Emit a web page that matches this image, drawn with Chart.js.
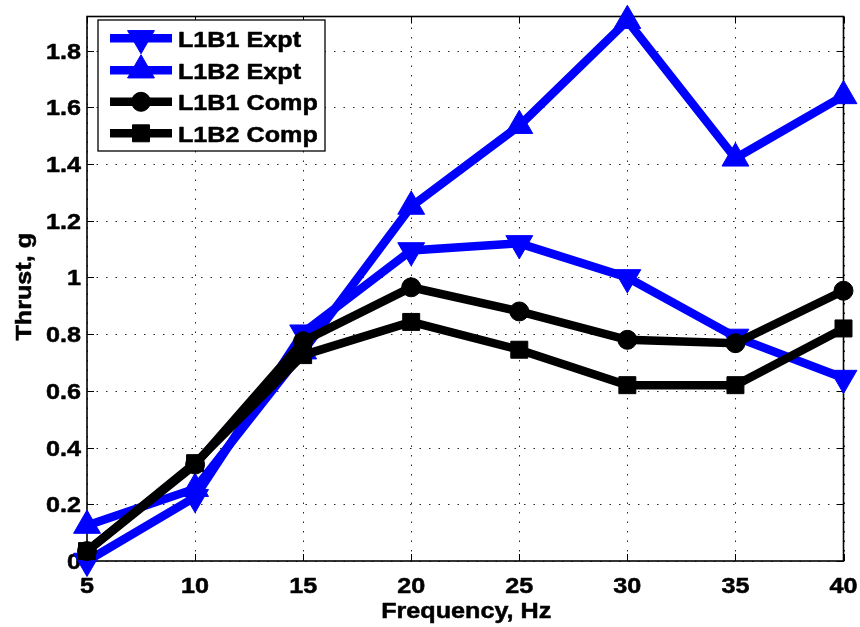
<!DOCTYPE html>
<html>
<head>
<meta charset="utf-8">
<script src="https://cdn.jsdelivr.net/npm/chart.js@4.4.1/dist/chart.umd.min.js"></script>
<style>
  html, body { margin: 0; padding: 0; background: #fff; }
  #wrap { width: 860px; height: 627px; }
</style>
</head>
<body>
<div id="wrap"><canvas id="c" width="860" height="627"></canvas></div>
<script>
// Thrust measurements and computations versus flapping frequency
const frequencyHz = [5, 10, 15, 20, 25, 30, 35, 40];
const l1b1Expt = [0.00, 0.225, 0.805, 1.095, 1.12, 1.00, 0.79, 0.645];
const l1b2Expt = [0.125, 0.255, 0.74, 1.25, 1.535, 1.905, 1.42, 1.64];
const l1b1Comp = [0.035, 0.34, 0.775, 0.965, 0.88, 0.78, 0.768, 0.953];
const l1b2Comp = [0.035, 0.345, 0.726, 0.843, 0.745, 0.62, 0.62, 0.82];
const seriesLabels = ['L1B1 Expt', 'L1B2 Expt', 'L1B1 Comp', 'L1B2 Comp'];
const xTickValues = [5, 10, 15, 20, 25, 30, 35, 40];
const yTickValues = [0, 0.2, 0.4, 0.6, 0.8, 1, 1.2, 1.4, 1.6, 1.8];
const xTitle = 'Frequency, Hz';
const yTitle = 'Thrust, g';

const seriesValues = [l1b1Expt, l1b2Expt, l1b1Comp, l1b2Comp];

const BLUE = '#0000ff';
const BLACK = '#000000';
const FONT = 'bold 21.5px "Liberation Sans", Arial, Helvetica, sans-serif';
const STRETCH = 1.17;   // wide bold lettering
const LINE_W = 8.5;

const markerStyles = [
  { pointStyle: 'triangle', rotation: 180, radius: 15.5, color: BLUE },
  { pointStyle: 'triangle', rotation: 0,   radius: 15.5, color: BLUE },
  { pointStyle: 'circle',   rotation: 0,   radius: 9.5,  color: BLACK },
  { pointStyle: 'rect',     rotation: 0,   radius: 12,   color: BLACK }
];

function fmtTick(v) {
  return String(Math.round(v * 10) / 10);
}

function stretchedText(ctx, text, x, y, align, angle) {
  ctx.save();
  ctx.translate(x, y);
  if (angle) ctx.rotate(angle);
  ctx.scale(STRETCH, 1);
  ctx.font = FONT;
  ctx.fillStyle = '#000';
  ctx.strokeStyle = '#000';
  ctx.lineWidth = 0.5;
  ctx.lineJoin = 'round';
  ctx.textAlign = align;
  ctx.textBaseline = 'alphabetic';
  ctx.fillText(text, 0, 0);
  ctx.strokeText(text, 0, 0);
  ctx.restore();
}

function drawMarker(ctx, m, cx, cy) {
  const r = m.radius;
  ctx.beginPath();
  if (m.pointStyle === 'circle') {
    ctx.arc(cx, cy, r, 0, Math.PI * 2);
  } else if (m.pointStyle === 'rect') {
    const s = Math.SQRT1_2 * r;
    ctx.rect(cx - s, cy - s, 2 * s, 2 * s);
  } else {
    let a = m.rotation * Math.PI / 180;
    for (let k = 0; k < 3; k++) {
      const px = cx + Math.sin(a) * r, py = cy - Math.cos(a) * r;
      if (k === 0) ctx.moveTo(px, py); else ctx.lineTo(px, py);
      a += 2 * Math.PI / 3;
    }
    ctx.closePath();
  }
  ctx.fillStyle = m.color;
  ctx.fill();
  ctx.lineWidth = 1;
  ctx.strokeStyle = m.color;
  ctx.stroke();
}

// Axes frame: dotted grid, inward ticks, box, tick labels and titles
const axesFrame = {
  id: 'axesFrame',
  beforeDatasetsDraw(chart) {
    const { ctx, chartArea, scales } = chart;
    const { left, right, top, bottom } = chartArea;
    const xs = scales.x, ys = scales.y;
    ctx.save();

    ctx.strokeStyle = 'rgba(0,0,0,0.85)';
    ctx.lineWidth = 1;
    ctx.setLineDash([1.5, 8]);
    xs.ticks.forEach(t => {
      const px = Math.round(xs.getPixelForValue(t.value)) + 0.5;
      ctx.beginPath(); ctx.moveTo(px, bottom); ctx.lineTo(px, top); ctx.stroke();
    });
    ys.ticks.forEach(t => {
      const py = Math.round(ys.getPixelForValue(t.value)) + 0.5;
      ctx.beginPath(); ctx.moveTo(left, py); ctx.lineTo(right, py); ctx.stroke();
    });
    ctx.setLineDash([]);

    ctx.strokeStyle = '#000';
    ctx.lineWidth = 1;
    const tl = 7;
    xs.ticks.forEach(t => {
      const px = Math.round(xs.getPixelForValue(t.value)) + 0.5;
      ctx.beginPath();
      ctx.moveTo(px, bottom); ctx.lineTo(px, bottom - tl);
      ctx.moveTo(px, top); ctx.lineTo(px, top + tl);
      ctx.stroke();
    });
    ys.ticks.forEach(t => {
      const py = Math.round(ys.getPixelForValue(t.value)) + 0.5;
      ctx.beginPath();
      ctx.moveTo(left, py); ctx.lineTo(left + tl, py);
      ctx.moveTo(right, py); ctx.lineTo(right - tl, py);
      ctx.stroke();
    });

    ctx.lineWidth = 1.6;
    ctx.strokeRect(left, top, right - left, bottom - top);

    xs.ticks.forEach(t => {
      stretchedText(ctx, fmtTick(t.value), xs.getPixelForValue(t.value), bottom + 32, 'center');
    });
    ys.ticks.forEach(t => {
      stretchedText(ctx, fmtTick(t.value), left - 6, ys.getPixelForValue(t.value) + 8, 'right');
    });

    stretchedText(ctx, xTitle, (left + right) / 2 + 1, 618, 'center');
    stretchedText(ctx, yTitle, 31, (top + bottom) / 2 - 2, 'center', -Math.PI / 2);

    ctx.restore();
  },
  afterDraw(chart) {
    const { ctx } = chart;
    ctx.save();
    // legend box
    const bx = 98, by = 20, bw = 227, bh = 131;
    ctx.fillStyle = '#fff';
    ctx.fillRect(bx, by, bw, bh);
    ctx.strokeStyle = '#000';
    ctx.lineWidth = 1.3;
    ctx.strokeRect(bx, by, bw, bh);

    const rowY = [38.3, 70.2, 101.8, 133.3];
    const x0 = 110, x1 = 172, xm = (x0 + x1) / 2;
    seriesLabels.forEach((label, i) => {
      const m = markerStyles[i];
      const yy = rowY[i];
      ctx.strokeStyle = m.color;
      ctx.lineWidth = LINE_W;
      ctx.lineCap = 'butt';
      ctx.beginPath(); ctx.moveTo(x0, yy); ctx.lineTo(x1, yy); ctx.stroke();
      drawMarker(ctx, m, xm, yy);
      stretchedText(ctx, label, 178, yy + 8.4, 'left');
    });
    ctx.restore();
  }
};

const datasets = seriesValues.map((vals, i) => {
  const m = markerStyles[i];
  return {
    label: seriesLabels[i],
    data: frequencyHz.map((f, j) => ({ x: f, y: vals[j] })),
    borderColor: m.color,
    backgroundColor: m.color,
    borderWidth: LINE_W,
    pointStyle: m.pointStyle,
    pointRotation: m.rotation,
    pointRadius: m.radius,
    pointBorderWidth: 1,
    pointBackgroundColor: m.color,
    pointBorderColor: m.color,
    tension: 0,
    clip: false,
    order: seriesLabels.length - 1 - i
  };
});

function fixedAxis(size, isX) {
  return function (scale) {
    if (isX) scale.height = size; else scale.width = size;
    scale.paddingLeft = 0; scale.paddingRight = 0;
    scale.paddingTop = 0; scale.paddingBottom = 0;
  };
}

new Chart(document.getElementById('c'), {
  type: 'line',
  data: { datasets },
  options: {
    responsive: false,
    devicePixelRatio: 1,
    animation: false,
    events: [],
    layout: { padding: { top: 9, right: 14, left: 0, bottom: 0 } },
    plugins: { legend: { display: false }, tooltip: { enabled: false } },
    scales: {
      x: {
        type: 'linear',
        min: 5, max: 40,
        afterBuildTicks: s => { s.ticks = xTickValues.map(v => ({ value: v })); },
        afterFit: fixedAxis(66, true),
        ticks: { display: false },
        grid: { display: false },
        border: { display: false }
      },
      y: {
        type: 'linear',
        min: 0, max: 1.92,
        afterBuildTicks: s => { s.ticks = yTickValues.map(v => ({ value: v })); },
        afterFit: fixedAxis(87, false),
        ticks: { display: false },
        grid: { display: false },
        border: { display: false }
      }
    }
  },
  plugins: [axesFrame]
});
</script>
</body>
</html>
